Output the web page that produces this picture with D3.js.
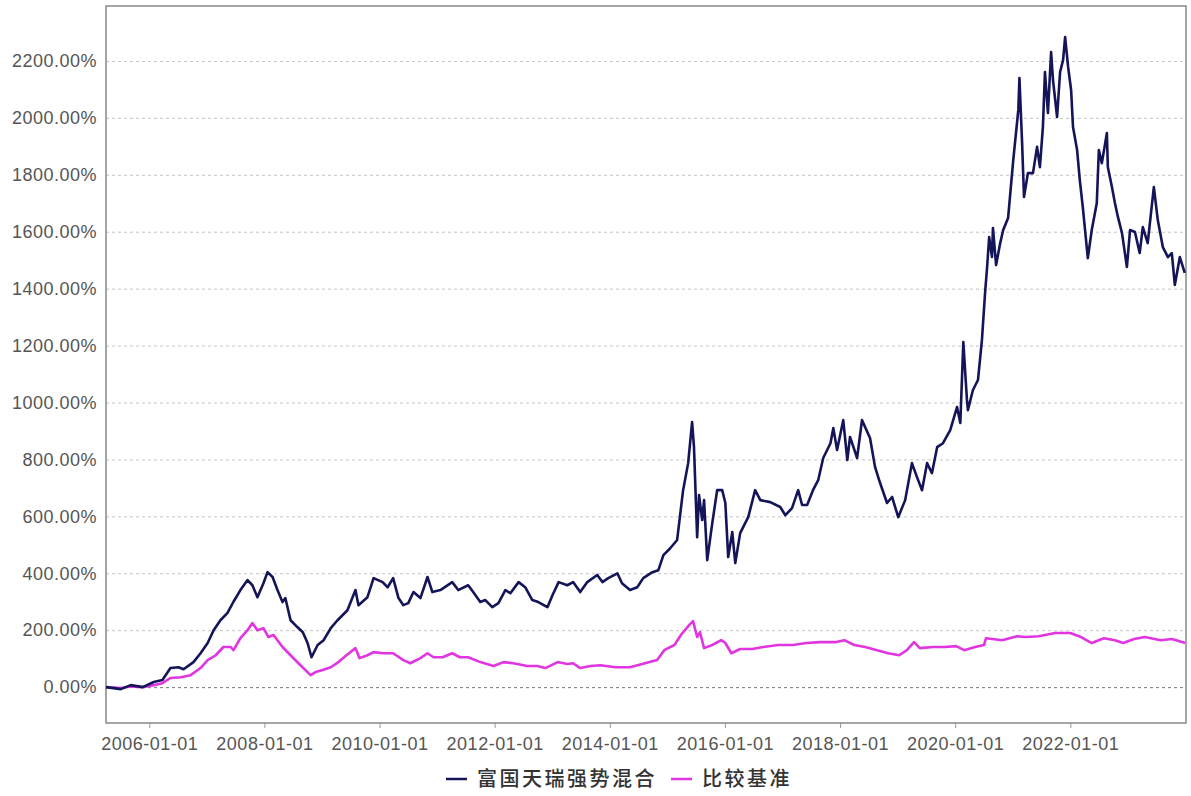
<!DOCTYPE html>
<html>
<head>
<meta charset="utf-8">
<style>
    body { margin: 0; background: #fff; }
    svg { display: block; }
    .tick text { font-family: "Liberation Sans", Arial, sans-serif; font-size: 18px; fill: #555; letter-spacing: 0.5px; }
    .y .domain, .x .domain { display: none; }
    .y .tick line { stroke: #c4c4c4; stroke-dasharray: 3,3; }
    .x .tick line { stroke: #999; }
    .legend text { font-family: "Noto Sans CJK SC", sans-serif; font-size: 20px; font-weight: 500; fill: #333; letter-spacing: 2.5px; }
</style>
</head>
<body>
<svg width="1191" height="796"></svg>
<script src="https://d3js.org/d3.v7.min.js"></script>
<script>
    // fund: 富国天瑞强势混合 (cumulative return, %)
    let fundDates = [
        "2005-04-01","2005-07-04","2005-09-05","2005-11-20","2006-01-29","2006-03-25","2006-05-15","2006-07-05","2006-08-06","2006-10-08",
        "2006-11-22","2007-01-06","2007-02-13","2007-03-28","2007-05-11","2007-06-19","2007-08-02","2007-09-16","2007-10-17","2007-11-18",
        "2007-12-26","2008-01-21","2008-02-22","2008-03-24","2008-04-25","2008-05-13","2008-06-15","2008-07-28","2008-09-01","2008-10-01",
        "2008-10-26","2008-12-04","2009-01-11","2009-02-25","2009-04-09","2009-06-11","2009-08-01","2009-08-20","2009-10-16","2009-11-24",
        "2010-01-20","2010-02-21","2010-03-28","2010-05-01","2010-06-01","2010-07-02","2010-08-04","2010-09-17","2010-11-01","2010-12-02",
        "2011-01-22","2011-04-07","2011-05-15","2011-07-17","2011-08-18","2011-10-02","2011-11-03","2011-12-17","2012-01-25","2012-03-09",
        "2012-04-10","2012-06-01","2012-07-13","2012-08-27","2012-10-04","2012-12-01","2013-01-02","2013-02-10","2013-04-06","2013-05-13",
        "2013-06-27","2013-08-11","2013-10-13","2013-11-15","2013-12-22","2014-02-18","2014-03-19","2014-05-09","2014-06-24","2014-08-01",
        "2014-09-28","2014-11-05","2014-12-07","2015-01-19","2015-03-04","2015-04-11","2015-05-13","2015-06-07","2015-06-19","2015-07-09",
        "2015-07-21","2015-08-10","2015-08-22","2015-09-11","2015-10-13","2015-11-13","2015-12-15","2016-01-04","2016-01-22","2016-02-17",
        "2016-03-07","2016-04-07","2016-05-28","2016-07-11","2016-08-13","2016-10-15","2016-12-17","2017-01-19","2017-03-02","2017-04-10",
        "2017-05-05","2017-06-06","2017-07-13","2017-08-15","2017-09-16","2017-11-01","2017-11-19","2017-12-13","2018-01-21","2018-02-16",
        "2018-03-05","2018-04-19","2018-05-20","2018-07-10","2018-08-11","2018-09-12","2018-10-26","2018-11-27","2019-01-05","2019-02-18",
        "2019-04-02","2019-05-04","2019-06-05","2019-07-07","2019-08-07","2019-09-09","2019-10-16","2019-12-01","2020-01-13","2020-02-03",
        "2020-02-22","2020-03-16","2020-03-22","2020-04-23","2020-05-25","2020-06-19","2020-07-09","2020-07-22","2020-08-04","2020-08-22",
        "2020-08-28","2020-09-17","2020-10-13","2020-11-01","2020-12-02","2021-01-04","2021-02-05","2021-02-12","2021-03-01","2021-03-13",
        "2021-04-07","2021-05-09","2021-06-04","2021-06-22","2021-07-11","2021-07-24","2021-08-12","2021-09-01","2021-09-13","2021-10-09",
        "2021-10-28","2021-11-16","2021-11-29","2021-12-18","2022-01-06","2022-01-18","2022-02-13","2022-03-02","2022-03-21","2022-04-22",
        "2022-05-17","2022-06-18","2022-07-01","2022-07-20","2022-08-21","2022-08-27","2022-09-22","2022-10-11","2022-10-30","2022-11-25",
        "2022-12-26","2023-01-15","2023-02-15","2023-03-17","2023-04-06","2023-05-07","2023-06-15","2023-07-10","2023-08-11","2023-09-12",
        "2023-10-07","2023-10-26","2023-11-27","2023-12-28"
    ]
    let fundValues = [
        0,-7,7,0,18,25,67,70,63,88,
        119,155,200,235,260,300,341,376,358,316,
        365,404,387,341,299,313,235,211,193,155,
        105,148,165,207,235,270,341,288,316,383,
        369,351,383,313,288,295,334,313,387,334,
        341,369,341,358,334,299,306,281,295,341,
        330,369,351,306,299,281,323,369,358,369,
        334,369,394,369,383,400,365,341,351,383,
        404,411,464,488,517,692,787,931,843,527,
        675,587,657,446,576,692,692,647,457,545,
        436,541,597,692,657,650,633,604,629,692,
        640,640,692,727,805,857,910,833,938,798,
        879,805,938,875,773,717,647,668,597,657,
        787,738,692,787,752,843,857,903,984,928,
        1212,1009,973,1044,1079,1219,1384,1476,1581,1511,
        1613,1483,1560,1606,1648,1852,2028,2140,1912,1722,
        1806,1806,1898,1827,1968,2161,2017,2231,2133,2003,
        2161,2203,2284,2179,2098,1968,1887,1782,1687,1507,
        1606,1701,1887,1841,1947,1827,1757,1701,1652,1595,
        1476,1606,1599,1525,1616,1560,1757,1641,1546,1511,
        1525,1413,1511,1455
    ]

    // benchmark: 比较基准 (cumulative return, %)
    let benchDates = [
        "2005-04-01","2005-07-04","2005-09-05","2005-11-20","2006-01-29","2006-03-25","2006-05-15","2006-07-20","2006-09-20","2006-11-22",
        "2007-01-06","2007-02-26","2007-04-16","2007-06-01","2007-06-19","2007-08-02","2007-09-16","2007-10-17","2007-11-18","2007-12-26",
        "2008-01-27","2008-02-28","2008-04-25","2008-06-15","2008-08-17","2008-10-20","2008-11-21","2009-01-05","2009-02-25","2009-04-15",
        "2009-06-05","2009-08-01","2009-08-26","2009-10-16","2009-11-24","2010-01-26","2010-03-28","2010-06-01","2010-07-15","2010-09-17",
        "2010-11-01","2010-12-09","2011-02-05","2011-04-07","2011-05-25","2011-07-17","2011-10-02","2011-12-25","2012-02-26","2012-04-28",
        "2012-07-26","2012-09-28","2012-11-18","2013-02-04","2013-04-06","2013-05-13","2013-06-27","2013-09-01","2013-11-02","2014-02-06",
        "2014-05-09","2014-07-25","2014-10-28","2014-12-12","2015-02-15","2015-03-28","2015-05-19","2015-06-13","2015-07-09","2015-07-27",
        "2015-08-22","2015-10-13","2015-12-09","2016-01-04","2016-02-11","2016-04-07","2016-06-22","2016-09-01","2016-12-05","2017-03-09",
        "2017-06-01","2017-08-27","2017-12-01","2018-01-28","2018-04-01","2018-06-09","2018-08-24","2018-11-02","2019-01-11","2019-03-01",
        "2019-04-15","2019-05-22","2019-08-13","2019-10-28","2020-01-07","2020-02-28","2020-05-07","2020-07-02","2020-07-15","2020-10-25",
        "2021-01-28","2021-03-25","2021-06-15","2021-09-26","2022-01-01","2022-03-10","2022-05-17","2022-08-02","2022-10-11","2022-12-02",
        "2023-02-10","2023-04-19","2023-07-28","2023-10-07","2023-12-16","2023-12-31"
    ]
    let benchValues = [
        0,-3,2,0,7,14,32,35,42,67,
        95,112,141,141,130,172,200,225,200,207,
        176,183,141,112,77,42,53,60,70,88,
        112,137,102,112,123,119,119,95,84,102,
        119,105,105,119,105,105,88,74,88,84,
        74,74,67,88,81,84,67,74,77,70,
        70,81,95,130,148,183,218,232,176,193,
        137,148,165,155,119,134,134,141,148,148,
        155,158,158,165,148,141,130,119,112,130,
        158,137,141,141,144,130,141,148,172,165,
        179,176,179,190,190,176,155,172,165,155,
        169,176,165,169,158,155
    ]

    let yTicks = [0, 200, 400, 600, 800, 1000, 1200, 1400, 1600, 1800, 2000, 2200]
    let xTicks = ["2006-01-01","2008-01-01","2010-01-01","2012-01-01","2014-01-01","2016-01-01","2018-01-01","2020-01-01","2022-01-01"]
    let seriesNames = ["富国天瑞强势混合", "比较基准"]
    let seriesColors = ["#141458", "#e035e0"]

    let margin = { top: 6, right: 5, bottom: 73, left: 106 }
    let W = 1191, H = 796
    let parse = d3.timeParse("%Y-%m-%d")

    let fund = fundDates.map((d, i) => ({ date: parse(d), value: fundValues[i] }))
    let bench = benchDates.map((d, i) => ({ date: parse(d), value: benchValues[i] }))

    let svg = d3.select("svg")

    let x = d3.scaleTime()
        .domain([parse("2005-04-01"), parse("2024-01-05")])
        .range([margin.left, W - margin.right])

    let y = d3.scaleLinear()
        .domain([-126, 2393])
        .range([H - margin.bottom, margin.top])

    // grid + y labels
    let yAxis = svg.append("g")
        .attr("class", "y axis")
        .attr("transform", `translate(${margin.left},0)`)
        .call(d3.axisLeft(y)
            .tickValues(yTicks)
            .tickSize(-(W - margin.left - margin.right))
            .tickPadding(9)
            .tickFormat(d => d3.format(".2f")(d) + "%"))
    yAxis.selectAll(".tick")
        .filter(d => d === 0)
        .select("line")
        .style("stroke", "#777")

    // x axis
    svg.append("g")
        .attr("class", "x axis")
        .attr("transform", `translate(0,${H - margin.bottom})`)
        .call(d3.axisBottom(x)
            .tickValues(xTicks.map(parse))
            .tickSize(5)
            .tickPadding(9)
            .tickFormat(d3.timeFormat("%Y-%m-%d")))

    // frame
    svg.append("rect")
        .attr("x", margin.left)
        .attr("y", margin.top)
        .attr("width", W - margin.left - margin.right)
        .attr("height", H - margin.top - margin.bottom)
        .attr("fill", "none")
        .attr("stroke", "#888")
        .attr("stroke-width", 1.5)

    let line = d3.line()
        .x(d => x(d.date))
        .y(d => y(d.value))

    svg.append("path")
        .datum(bench)
        .attr("fill", "none")
        .attr("stroke", seriesColors[1])
        .attr("stroke-width", 2.6)
        .attr("stroke-linejoin", "round")
        .attr("d", line)

    svg.append("path")
        .datum(fund)
        .attr("fill", "none")
        .attr("stroke", seriesColors[0])
        .attr("stroke-width", 2.6)
        .attr("stroke-linejoin", "round")
        .attr("d", line)

    // legend
    let legend = svg.append("g").attr("class", "legend")
    let legX = [446, 671]
    seriesNames.forEach((name, i) => {
        legend.append("line")
            .attr("x1", legX[i]).attr("x2", legX[i] + 21)
            .attr("y1", 779).attr("y2", 779)
            .attr("stroke", seriesColors[i])
            .attr("stroke-width", 2.5)
        legend.append("text")
            .attr("x", legX[i] + 31)
            .attr("y", 779)
            .attr("dy", "0.36em")
            .text(name)
    })
</script>
</body>
</html>
